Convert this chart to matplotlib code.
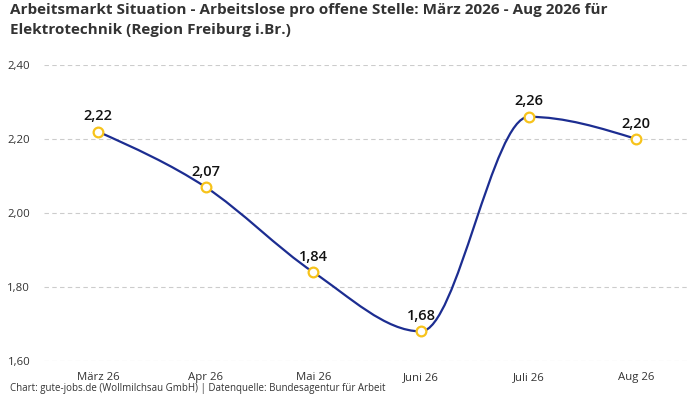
import matplotlib.pyplot as plt
from matplotlib.path import Path
from matplotlib.patches import PathPatch
from matplotlib.ticker import FuncFormatter

plt.rcParams['font.family'] = ['Open Sans', 'DejaVu Sans']

# Daten
monate = ["März 26", "Apr 26", "Mai 26", "Juni 26", "Juli 26", "Aug 26"]
werte = [2.22, 2.07, 1.84, 1.68, 2.26, 2.20]
y_ticks = [1.60, 1.80, 2.00, 2.20, 2.40]

titel = ("Arbeitsmarkt Situation - Arbeitslose pro offene Stelle: März 2026 - Aug 2026 für\n"
         "Elektrotechnik (Region Freiburg i.Br.)")
quelle = "Chart: gute-jobs.de (Wollmilchsau GmbH) | Datenquelle: Bundesagentur für Arbeit"

linie = "#1c2d91"
gelb = "#f7c31b"


def monotone_pfad(xs, ys):
    # monotone kubische Kurve (wie d3.curveMonotoneX) als Bezier-Pfad
    n = len(xs)
    h = [xs[i + 1] - xs[i] for i in range(n - 1)]
    s = [(ys[i + 1] - ys[i]) / h[i] for i in range(n - 1)]
    t = [0.0] * n
    for i in range(1, n - 1):
        p = (s[i - 1] * h[i] + s[i] * h[i - 1]) / (h[i - 1] + h[i])
        sg = (1 if s[i - 1] > 0 else -1 if s[i - 1] < 0 else 0) + (1 if s[i] > 0 else -1 if s[i] < 0 else 0)
        t[i] = sg * min(abs(s[i - 1]), abs(s[i]), 0.5 * abs(p))
    t[0] = (3 * s[0] - t[1]) / 2
    t[-1] = (3 * s[-1] - t[-2]) / 2
    verts = [(xs[0], ys[0])]
    codes = [Path.MOVETO]
    for i in range(n - 1):
        dx = h[i] / 3
        verts += [(xs[i] + dx, ys[i] + dx * t[i]),
                  (xs[i + 1] - dx, ys[i + 1] - dx * t[i + 1]),
                  (xs[i + 1], ys[i + 1])]
        codes += [Path.CURVE4] * 3
    return Path(verts, codes)


fig = plt.figure(figsize=(7, 4), dpi=100)
ax = fig.add_axes([0.063, 0.0975, 0.923, 0.74])

x = list(range(len(monate)))
ax.add_patch(PathPatch(monotone_pfad(x, werte), facecolor="none", edgecolor=linie, lw=1.6, zorder=3))
ax.plot(x, werte, linestyle="none", marker="o", markersize=7, markerfacecolor="white",
        markeredgecolor=gelb, markeredgewidth=1.6, zorder=4)

for xi, w in zip(x, werte):
    ax.annotate(f"{w:.2f}".replace(".", ","), (xi, w), xytext=(0, 6), textcoords="offset points",
                ha="center", va="bottom", fontsize=10.5, fontweight="semibold", color="#111111")

ax.set_xlim(-0.5, len(monate) - 0.5)
ax.set_ylim(1.60, 2.40)
ax.set_xticks(x)
ax.set_xticklabels(monate)
ax.set_yticks(y_ticks)
ax.yaxis.set_major_formatter(FuncFormatter(lambda v, pos: f"{v:.2f}".replace(".", ",")))
ax.tick_params(axis="both", length=0, labelsize=8.2, colors="#333333")
ax.tick_params(axis="x", pad=8)
ax.tick_params(axis="y", pad=10)
ax.grid(axis="y", linestyle=(0, (4, 3)), color="#cccccc", linewidth=0.8)
ax.set_axisbelow(True)
for sp in ax.spines.values():
    sp.set_visible(False)

fig.text(0.014, 0.992, titel, ha="left", va="top", fontsize=11, fontweight="bold",
         color="#333333", linespacing=1.5)
fig.text(0.014, 0.016, quelle, ha="left", va="bottom", fontsize=7, color="#333333")

fig.savefig("out.png", dpi=100)
